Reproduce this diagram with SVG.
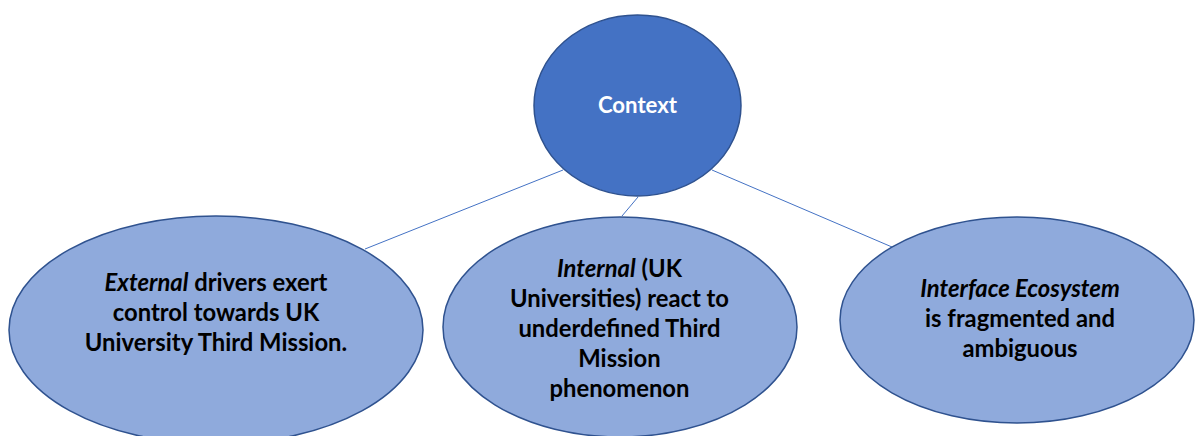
<svg xmlns="http://www.w3.org/2000/svg" width="1195" height="436" viewBox="0 0 1195 436">
  <style>
    .link { stroke: #4472C4; stroke-width: 1; fill: none; }
    .hub { fill: #4472C4; stroke: #2F528F; stroke-width: 1.5; }
    .leaf { fill: #8FAADC; stroke: #2F528F; stroke-width: 1.5; }
    .label { font-family: Lato, "Liberation Sans", sans-serif; font-size: 23.8px; font-weight: bold; text-anchor: middle; fill: #000000; }
    .hub-label { fill: #FFFFFF; font-size: 22.2px; }
    .em { font-style: italic; }
  </style>
  <rect width="1195" height="436" fill="#FFFFFF"/>

  <!-- connectors from the hub to each leaf -->
  <g id="connectors">
    <line class="link" x1="563" y1="170" x2="365" y2="249"/>
    <line class="link" x1="638" y1="197" x2="622" y2="216"/>
    <line class="link" x1="712" y1="170" x2="892" y2="247"/>
  </g>

  <g id="node-context">
    <ellipse class="hub" cx="637.5" cy="105.5" rx="103.5" ry="90.5"/>
    <text class="label hub-label" x="637.5" y="113">Context</text>
  </g>

  <g id="node-external">
    <ellipse class="leaf" cx="216" cy="330" rx="207" ry="114"/>
    <text class="label" x="216" y="291"><tspan class="em">External</tspan> drivers exert</text>
    <text class="label" x="216" y="321">control towards UK</text>
    <text class="label" x="216" y="351">University Third Mission.</text>
  </g>

  <g id="node-internal">
    <ellipse class="leaf" cx="620" cy="327" rx="177" ry="110"/>
    <text class="label" x="619.5" y="277"><tspan class="em">Internal</tspan> (UK</text>
    <text class="label" x="619.5" y="307">Universities) react to</text>
    <text class="label" x="619.5" y="337">underdefined Third</text>
    <text class="label" x="619.5" y="367">Mission</text>
    <text class="label" x="619.5" y="397">phenomenon</text>
  </g>

  <g id="node-interface">
    <ellipse class="leaf" cx="1017" cy="320" rx="177" ry="103"/>
    <text class="label" x="1020" y="297"><tspan class="em">Interface Ecosystem</tspan></text>
    <text class="label" x="1020" y="327">is fragmented and</text>
    <text class="label" x="1020" y="357">ambiguous</text>
  </g>
</svg>
